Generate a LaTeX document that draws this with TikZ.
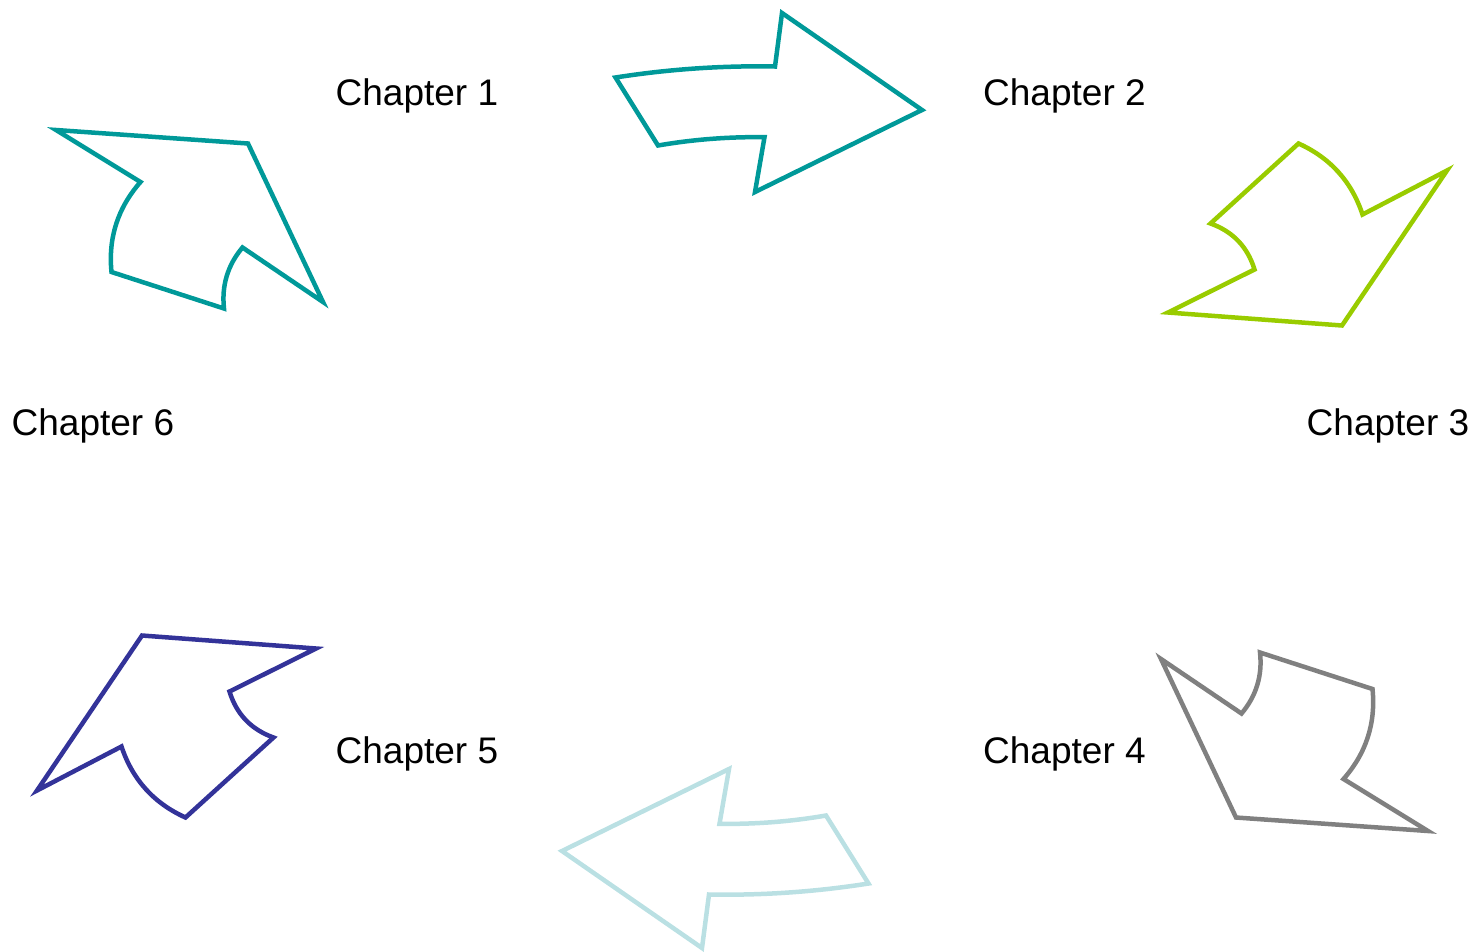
\documentclass[tikz,border=0pt]{standalone}
\usepackage{fontspec}
\setmainfont{Liberation Sans}
\definecolor{cTeal}{HTML}{009999}
\definecolor{cLime}{HTML}{99CC00}
\definecolor{cGray}{HTML}{808080}
\definecolor{cPale}{HTML}{BAE0E3}
\definecolor{cNavy}{HTML}{333399}
\newcommand\ArrTop{(615.5,77.5) .. controls (668.4,69.2) and (721.5,65.5) .. (775,66.5) -- (782,13) -- (922,110) -- (755,192) -- (764.5,137.2) .. controls (728.8,136.7) and (693.3,139.4) .. (658,145.5) -- cycle}
\newcommand\ArrRight{(1298.5,143.5) .. controls (1330.2,157.8) and (1351.6,181.5) .. (1362.5,214.5) -- (1447,170.5) -- (1342,325.5) -- (1168,312.5) -- (1254.5,269.5) .. controls (1247.5,246.8) and (1232.9,231.5) .. (1210.5,223.5) -- cycle}
\newcommand\ArrLeft{(56,130) -- (248,143.5) -- (323,302) -- (242.5,247.5) .. controls (227.6,265.2) and (221.5,285.6) .. (224,308.5) -- (111.5,272) .. controls (108.1,237.8) and (117.8,207.8) .. (140.5,182) -- cycle}
\begin{document}
\begin{tikzpicture}[x=1pt,y=-1pt,
  arrowshape/.style={line width=4.5pt, fill=none},
  label/.style={font=\fontsize{37}{44}\selectfont, inner sep=0pt, anchor=base west, text=black},
  flip/.style={rotate around={180:(742,480.5)}}]
\useasboundingbox (0,0) rectangle (1480,951);
% arrows
\draw[arrowshape, cTeal] \ArrTop;
\draw[arrowshape, cPale, flip] \ArrTop;
\draw[arrowshape, cLime] \ArrRight;
\draw[arrowshape, cNavy, flip] \ArrRight;
\draw[arrowshape, cTeal] \ArrLeft;
\draw[arrowshape, cGray, flip] \ArrLeft;
% labels
\node[label] (ch1) at (335.5,105) {Chapter 1};
\node[label] (ch2) at (983,105) {Chapter 2};
\node[label] (ch3) at (1306.5,435) {Chapter 3};
\node[label] (ch4) at (983,763.5) {Chapter 4};
\node[label] (ch5) at (335.5,763.5) {Chapter 5};
\node[label] (ch6) at (11.5,435) {Chapter 6};
\end{tikzpicture}
\end{document}
